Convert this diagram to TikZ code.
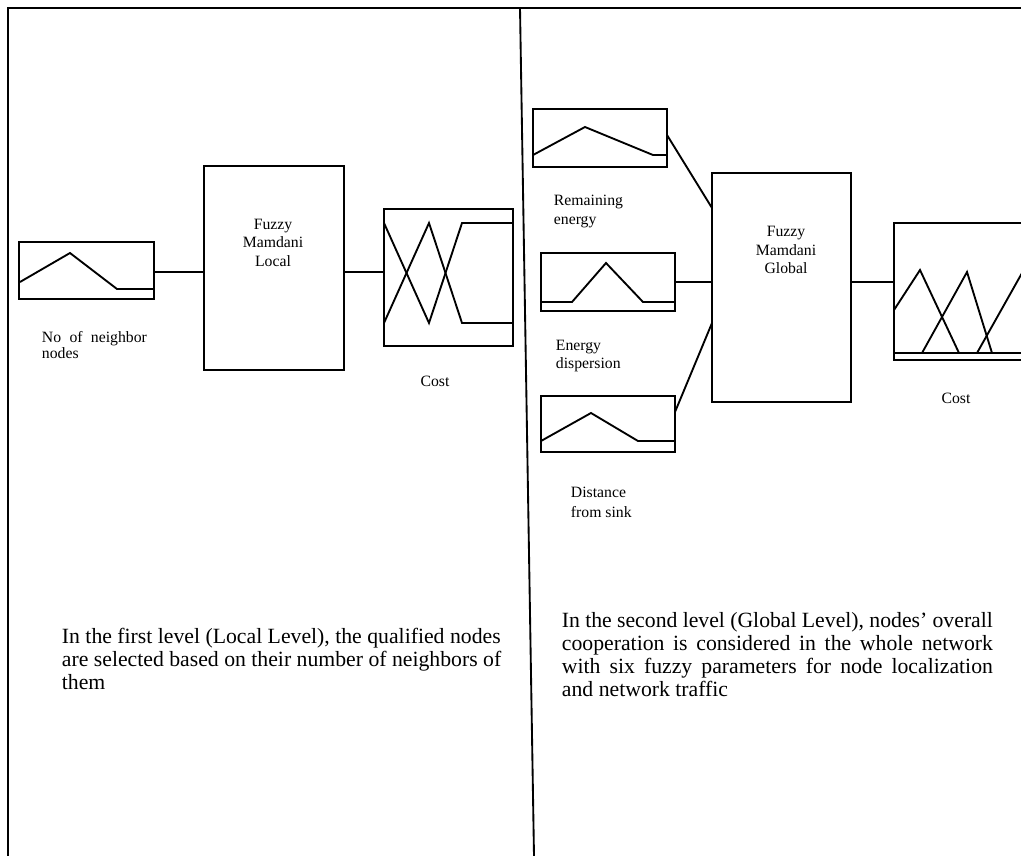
\documentclass[tikz,border=0pt]{standalone}
\usepackage{fontspec}
\setmainfont{Liberation Serif}
\usetikzlibrary{calc}
\begin{document}
\begin{tikzpicture}[x=0.75pt,y=-0.75pt, line width=1.4pt, line join=miter,
  box/.style={draw, inner sep=0pt, outer sep=0pt, anchor=north west},
  lbl/.style={font=\fontsize{11.8pt}{14pt}\selectfont, inner sep=0pt},
  para/.style={font=\fontsize{16.3pt}{17.25pt}\selectfont, inner sep=0pt, anchor=base west}]
\useasboundingbox (0,0) rectangle (1021,856);
\clip (0,0) rectangle (1021,856);
% frame
\coordinate (tl) at (8,8);
\coordinate (tr) at (1021,8);
\coordinate (bl) at (8,856);
\coordinate (dt) at (520,8);
\coordinate (db) at (534,856);
\draw (bl) -- (tl) -- (tr);
\draw (dt) -- (db);

% ---------- left (local) ----------
\node[box, minimum width=101.25pt, minimum height=42.75pt] (in1) at (19,242) {};
\draw (20,282) -- (70,253) -- (117,289) -- (154,289);
\node[box, minimum width=105pt, minimum height=153pt] (fl) at (204,166) {};
\node[box, minimum width=96.75pt, minimum height=102.75pt] (cl) at (384,209) {};
\draw (384,223) -- (429,323) -- (462,223) -- (513,223);
\draw (384,323) -- (429,223) -- (462,323) -- (513,323);
\coordinate (row) at ([yshift=-1.125pt]in1.east);
\draw (row) -- (row -| fl.west);
\draw (row -| fl.east) -- (row -| cl.west);

\node[lbl, anchor=base west] (l1a) at (41,342) {\makebox[78.75pt][s]{No of neighbor}};
\node[lbl, anchor=base west] (l1b) at (41,358) {nodes};
\node[lbl, anchor=base] (fla) at (273,229) {Fuzzy};
\node[lbl, anchor=base] (flb) at (273,247.5) {Mamdani};
\node[lbl, anchor=base] (flc) at (273,266) {Local};
\node[lbl, anchor=base] (clt) at (435,386) {Cost};

\node[para] (lp1) at (61,643) {In the first level (Local Level), the qualified nodes};
\node[para] (lp2) at (61,666) {are selected based on their number of neighbors of};
\node[para] (lp3) at (61,689) {them};

% ---------- right (global) ----------
\node[box, minimum width=100.5pt, minimum height=43.5pt] (rem) at (533,109) {};
\draw (533,155) -- (585,127) -- (653,155) -- (667,155);
\node[box, minimum width=100.5pt, minimum height=43.5pt] (ed) at (541,253) {};
\draw (541,302) -- (572,302) -- (606,263) -- (643,302) -- (675,302);
\node[box, minimum width=100.5pt, minimum height=42pt] (dist) at (541,396) {};
\draw (541,441) -- (591,413) -- (638,441) -- (675,441);
\node[box, minimum width=104.25pt, minimum height=171.75pt] (fg) at (712,173) {};
\node[box, minimum width=102pt, minimum height=102.75pt] (cr) at (894,223) {};
\draw (894,353) -- (1030,353);
\draw (894,310) -- (920,270) -- (959,353);
\draw (922,353) -- (967,272) -- (992,353);
\draw (977,353) -- (1022,273) -- (1030,258);

\draw ([yshift=2.25pt]rem.east) -- ([yshift=-26.25pt]fg.north west);
\draw (ed.east) -- (ed.east -| fg.west);
\draw ([yshift=-12pt]dist.north east) -- ([yshift=-112.5pt]fg.north west);
\draw (ed.east -| fg.east) -- (ed.east -| cr.west);

\node[lbl, anchor=base west] (rma) at (553,205) {Remaining};
\node[lbl, anchor=base west] (rmb) at (553,224) {energy};
\node[lbl, anchor=base west] (eda) at (555,350) {Energy};
\node[lbl, anchor=base west] (edb) at (555,368) {dispersion};
\node[lbl, anchor=base west] (dsa) at (570,497) {Distance};
\node[lbl, anchor=base west] (dsb) at (570,517) {from sink};
\node[lbl, anchor=base] (fga) at (786,236) {Fuzzy};
\node[lbl, anchor=base] (fgb) at (786,255) {Mamdani};
\node[lbl, anchor=base] (fgc) at (786,273) {Global};
\node[lbl, anchor=base] (crt) at (956,403) {Cost};

\node[para] (rp1) at (561,627) {\makebox[323.25pt][s]{In the second level (Global Level), nodes’ overall}};
\node[para] (rp2) at (561,650) {\makebox[323.25pt][s]{cooperation is considered in the whole network}};
\node[para] (rp3) at (561,673) {\makebox[323.25pt][s]{with six fuzzy parameters for node localization}};
\node[para] (rp4) at (561,696) {and network traffic};
\end{tikzpicture}
\end{document}
